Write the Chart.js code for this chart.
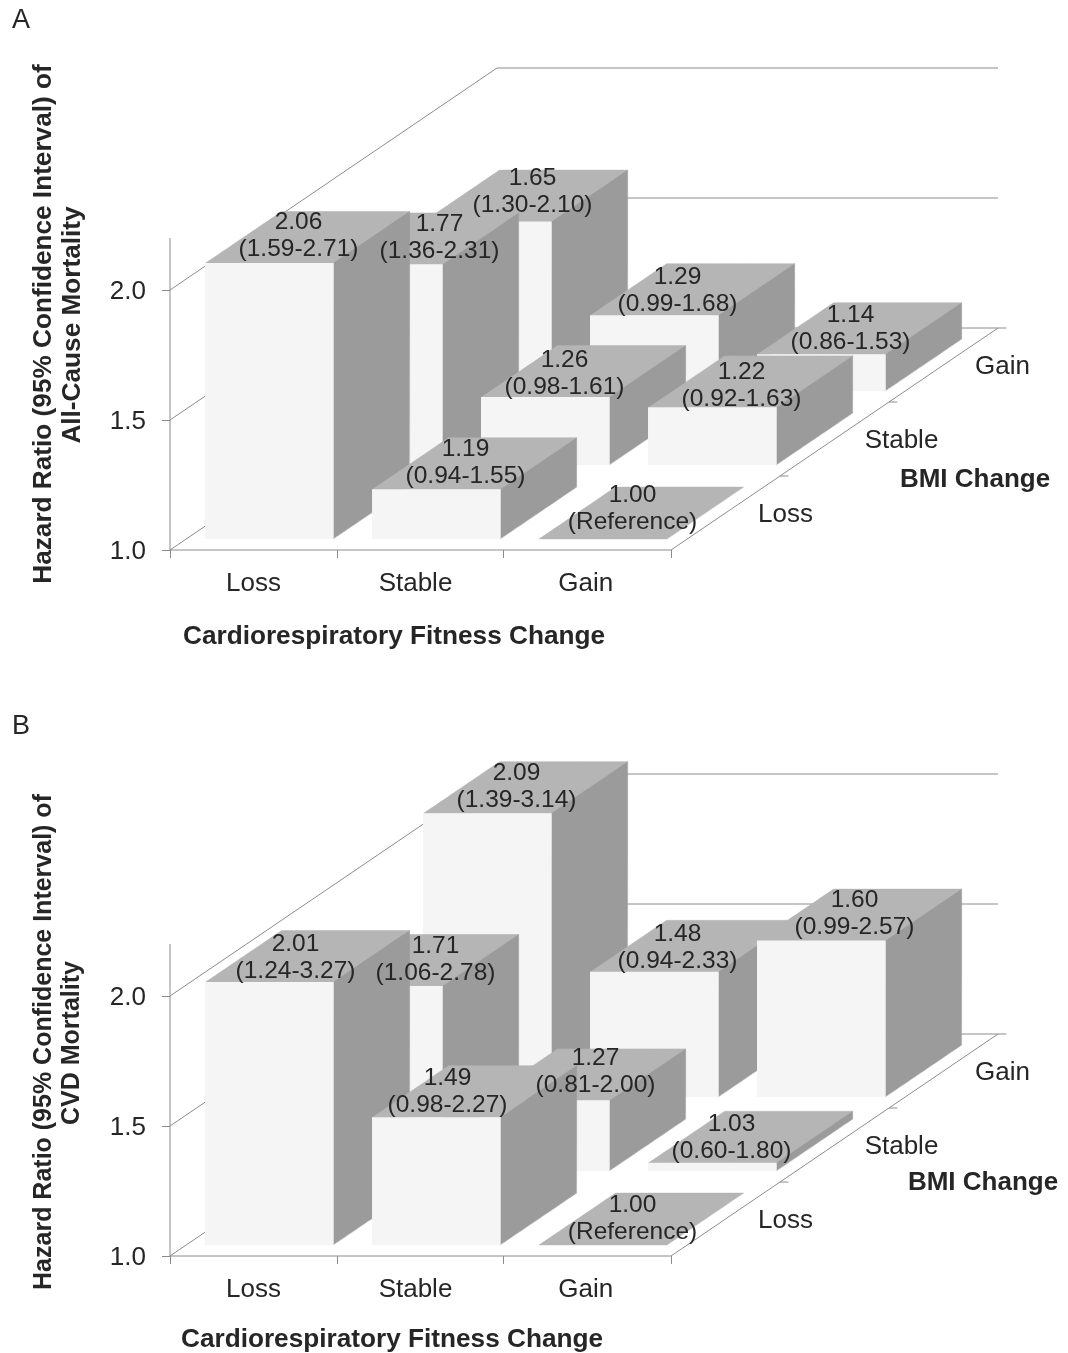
<!DOCTYPE html>
<html>
<head>
<meta charset="utf-8">
<script src="https://cdn.jsdelivr.net/npm/chart.js@4/dist/chart.umd.min.js"></script>
<style>
html,body{margin:0;padding:0;background:#fff;width:1068px;height:1353px;overflow:hidden}
canvas{position:absolute;left:0;display:block;filter:blur(0.4px)}
</style>
</head>
<body>
<canvas id="a" width="1068" height="670" style="top:0"></canvas>
<canvas id="b" width="1068" height="647" style="top:706px"></canvas>
<script>
// ---- data ----
const fitnessLabels = ['Loss', 'Stable', 'Gain'];
const bmiLabels = ['Loss', 'Stable', 'Gain'];
const yTicks = [1.0, 1.5, 2.0];

const allCauseBmiLoss   = [2.06, 1.19, 1.00];
const allCauseBmiStable = [1.77, 1.26, 1.22];
const allCauseBmiGain   = [1.65, 1.29, 1.14];
const allCauseCiLoss    = ['(1.59-2.71)', '(0.94-1.55)', '(Reference)'];
const allCauseCiStable  = ['(1.36-2.31)', '(0.98-1.61)', '(0.92-1.63)'];
const allCauseCiGain    = ['(1.30-2.10)', '(0.99-1.68)', '(0.86-1.53)'];

const cvdBmiLoss   = [2.01, 1.49, 1.00];
const cvdBmiStable = [1.71, 1.27, 1.03];
const cvdBmiGain   = [2.09, 1.48, 1.60];
const cvdCiLoss    = ['(1.24-3.27)', '(0.98-2.27)', '(Reference)'];
const cvdCiStable  = ['(1.06-2.78)', '(0.81-2.00)', '(0.60-1.80)'];
const cvdCiGain    = ['(1.39-3.14)', '(0.94-2.33)', '(0.99-2.57)'];

// ---- oblique projection (style, in pixels of the page) ----
const COL_PX = 167, UNIT_PX = 260, ROW_DX_PX = 109, ROW_DY_PX = 74;
const BAR_W_PX = 128, BAR_INSET_PX = 19, DEPTH_START = 0.15, DEPTH_LEN = 0.70;
const colW = BAR_W_PX / COL_PX, inset = BAR_INSET_PX / COL_PX;
const rowDx = ROW_DX_PX / COL_PX, rowDy = ROW_DY_PX / UNIT_PX;
const FONT = '"Liberation Sans", Arial, sans-serif';
const FRONT = '#f5f5f5', SIDE = '#9b9b9b', TOP = '#b5b5b5', LINE = '#8c8c8c', TEXT = '#262626';

const project = (col, depth, value) => ({ x: col + rowDx * depth, y: value + rowDy * depth });

function poly(points, color, order) {
  return { type: 'line', data: [...points, points[0]],
    backgroundColor: color, borderColor: color, borderWidth: 0.5, fill: 'shape', tension: 0.0001,
    pointRadius: 0, clip: false, order };
}
function rule(points, order) {
  return { type: 'line', data: points, borderColor: LINE, borderWidth: 1, fill: false,
    pointRadius: 0, clip: false, order };
}

function frame() {
  const sets = []; let o = 100000;
  const back = 3;
  sets.push(rule([project(0, back, 2), project(3.0, back, 2)], o--));
  sets.push(rule([project(0, back, 1.5), project(3.0, back, 1.5)], o--));
  sets.push(rule([project(0, back, 1), project(3.05, back, 1)], o--));
  yTicks.forEach(v => sets.push(rule([project(0, 0, v), project(0, back, v)], o--)));
  sets.push(rule([project(0, 0, 1), project(0, 0, 2.2)], o--));
  sets.push(rule([project(0, 0, 1), project(3, 0, 1)], o--));
  sets.push(rule([project(3, 0, 1), project(3, back, 1)], o--));
  [1, 2].forEach(d => sets.push(rule([project(3, d, 1), project(3.05, d, 1)], o--)));
  return sets;
}

function bars(rows) {
  const sets = frame(); let o = 5000;
  for (let r = rows.length - 1; r >= 0; r--) {
    rows[r].forEach((v, c) => {
      const d0 = r + DEPTH_START, d1 = d0 + DEPTH_LEN;
      const L = c + inset, R = L + colW;
      sets.push(poly([project(L, d0, v), project(R, d0, v), project(R, d1, v), project(L, d1, v)], TOP, o--));
      if (v > 1) {
        sets.push(poly([project(R, d0, 1), project(R, d1, 1), project(R, d1, v), project(R, d0, v)], SIDE, o--));
        const f = project((L + R) / 2, d0, 1), t = project((L + R) / 2, d0, v);
        sets.push({ type: 'bar', data: [{ x: f.x, y: [f.y, t.y] }], backgroundColor: FRONT,
          barThickness: BAR_W_PX, grouped: false, borderWidth: 0, clip: false, order: o-- });
      }
    });
  }
  return sets;
}

const textPlugin = {
  id: 'panelText',
  afterDatasetsDraw(chart, args, opts) {
    const { ctx, scales: { x, y } } = chart;
    const put = (str, px, py, font, rot) => {
      ctx.save(); ctx.translate(px, py); if (rot) ctx.rotate(-Math.PI / 2);
      ctx.font = font; ctx.fillStyle = TEXT; ctx.textAlign = 'center'; ctx.textBaseline = 'middle';
      ctx.fillText(str, 0, 0); ctx.restore();
    };
    const labelFont = '24.5px ' + FONT;
    opts.rows.forEach((row, r) => row.forEach((v, c) => {
      const d0 = r + DEPTH_START, d1 = d0 + DEPTH_LEN;
      const L = c + inset, R = L + colW;
      const a = project(L, d0, v), b = project(R, d1, v);
      const cx = (x.getPixelForValue(a.x) + x.getPixelForValue(b.x)) / 2 - 9 + opts.nudge[r][c];
      const front = y.getPixelForValue(a.y) + opts.lift[r][c];
      put(v.toFixed(2), cx, front - 41, labelFont);
      put(opts.ci[r][c], cx, front - 14, labelFont);
    }));
    bmiLabels.forEach((s, r) => {
      const p = project(3, r + 0.5, 1);
      put(s, x.getPixelForValue(p.x) + opts.depthNudge[r], y.getPixelForValue(p.y) + 2, '26px ' + FONT);
    });
    put(opts.panel, 21, 21, '27px ' + FONT);
    put(opts.xTitle, opts.xTitlePos[0], opts.xTitlePos[1], 'bold 26.2px ' + FONT);
    put('BMI Change', opts.bmiPos[0], opts.bmiPos[1], 'bold 26px ' + FONT);
    opts.yTitle.forEach((s, i) => put(s, opts.yTitlePos[i][0], opts.yTitlePos[i][1], opts.yFont, true));
  }
};

function build(id, height, rows, extra) {
  const xTickValues = [0, .5, 1, 1.47, 2, 2.49, 3];
  return new Chart(document.getElementById(id), {
    type: 'bar',
    data: { datasets: bars(rows) },
    plugins: [textPlugin],
    options: {
      responsive: false, animation: false, events: [],
      layout: { padding: 0 },
      plugins: { legend: { display: false }, tooltip: { enabled: false }, panelText: { rows, ...extra } },
      scales: {
        x: {
          type: 'linear', offset: false, min: 0, max: (1068 - 170) / COL_PX,
          afterFit: s => { s.height = height - 550; s.paddingLeft = 0; s.paddingRight = 0; },
          afterBuildTicks: s => { s.ticks = xTickValues.map(value => ({ value })); },
          border: { display: false },
          grid: { offset: false, drawOnChartArea: false, tickLength: 8,
            tickColor: c => (c.tick && c.tick.value % 1 === 0) ? LINE : 'rgba(0,0,0,0)' },
          ticks: { autoSkip: false, maxRotation: 0, padding: 10, color: TEXT, font: { family: FONT, size: 26 },
            callback: v => v % 1 !== 0 ? fitnessLabels[Math.floor(v)] : '' }
        },
        y: {
          type: 'linear', min: 1, max: 1 + 550 / UNIT_PX,
          afterFit: s => { s.width = 170; s.paddingTop = 0; s.paddingBottom = 0; },
          afterBuildTicks: s => { s.ticks = yTicks.map(value => ({ value })); },
          border: { display: false },
          grid: { drawOnChartArea: false, tickLength: 8, tickColor: LINE },
          ticks: { padding: 16, labelOffset: 2, color: TEXT, font: { family: FONT, size: 26 }, callback: v => v.toFixed(1) }
        }
      }
    }
  });
}

build('a', 670, [allCauseBmiLoss, allCauseBmiStable, allCauseBmiGain], {
  ci: [allCauseCiLoss, allCauseCiStable, allCauseCiGain],
  nudge: [[0, 0, 0], [32, -10, 0], [16, -6, 0]],
  lift: [[0, 1, -3], [1, 4, 6], [-3, 3, 2]],
  depthNudge: [60, 67, 59],
  panel: 'A',
  xTitle: 'Cardiorespiratory Fitness Change', xTitlePos: [394, 637],
  bmiPos: [975, 480],
  yTitle: ['Hazard Ratio (95% Confidence Interval) of', 'All-Cause Mortality'],
  yTitlePos: [[44, 324], [73, 325]], yFont: 'bold 26.2px ' + FONT
});
build('b', 647, [cvdBmiLoss, cvdBmiStable, cvdBmiGain], {
  ci: [cvdCiLoss, cvdCiStable, cvdCiGain],
  nudge: [[-3, -18, 0], [28, 21, -10], [0, -6, 4]],
  lift: [[3, 2, 1], [1, -1, 2], [1, 3, 0]],
  depthNudge: [60, 67, 59],
  panel: 'B',
  xTitle: 'Cardiorespiratory Fitness Change', xTitlePos: [392, 634],
  bmiPos: [983, 477],
  yTitle: ['Hazard Ratio (95% Confidence Interval) of', 'CVD Mortality'],
  yTitlePos: [[44, 336], [72, 337]], yFont: 'bold 25px ' + FONT
});
</script>
</body>
</html>
